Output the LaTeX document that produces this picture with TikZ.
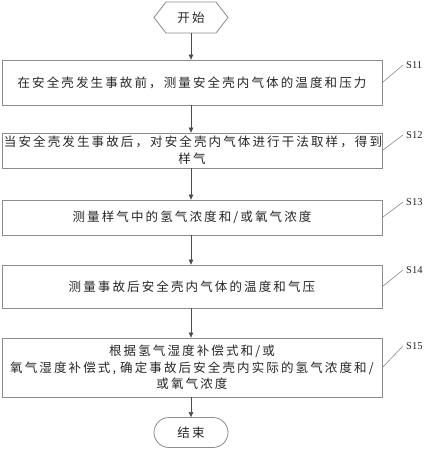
\documentclass[tikz,border=0pt]{standalone}
\usepackage{fontspec}
\setmainfont{Liberation Serif}
\newfontfamily\cjk[LetterSpace=17]{Noto Sans CJK SC}
\usetikzlibrary{arrows.meta,shapes.misc}
\tikzset{
  box/.style={draw=black!45, line width=0.8pt, minimum width=380pt, text width=376pt,
    align=center, inner sep=0pt, font=\cjk\fontsize{12.5}{17}\selectfont, text=black!85},
  term/.style={draw=black!45, line width=0.8pt, minimum width=74pt, minimum height=30pt,
    inner sep=0pt, font=\cjk\fontsize{12.5}{17}\selectfont, text=black!85},
  flow/.style={draw=black!70, line width=0.6pt, -{Triangle[length=5pt,width=4.5pt]}},
  lead/.style={draw=black!45, line width=0.6pt},
  steplabel/.style={font=\fontsize{10.5}{12}\selectfont, text=black!85, inner sep=0pt, anchor=west}
}
\begin{document}
\begin{tikzpicture}[x=1pt,y=-1pt]
\useasboundingbox (0,0) rectangle (426,450);
\fill[white] (0,0) rectangle (426,450);
% start hexagon
\node[term, draw=none] (start) at (191,17.5) {开始};
\draw[draw=black!45, line width=0.8pt] (154,17.5) -- (166,2) -- (216,2) -- (228,17.5) -- (216,33) -- (166,33) -- cycle;
\coordinate (startb) at (191,33);
\node[box, minimum height=45pt] (s11) at (192,82.5) {在安全壳发生事故前，测量安全壳内气体的温度和压力};
\node[box, minimum height=35pt] (s12) at (192,150.5) {当安全壳发生事故后，对安全壳内气体进行干法取样，得到\\样气};
\node[box, minimum height=35pt] (s13) at (192,217.5) {测量样气中的氢气浓度和/或氧气浓度};
\node[box, minimum height=43pt] (s14) at (192,286.5) {测量事故后安全壳内气体的温度和气压};
\node[box, minimum height=59pt, font=\cjk\fontsize{12.5}{16.5}\selectfont] (s15) at (192,367.5) {根据氢气湿度补偿式和/或\\氧气湿度补偿式, 确定事故后安全壳内实际的氢气浓度和/\\或氧气浓度};
\node[term, rounded rectangle] (end) at (191,432.5) {结束};
% flow arrows
\draw[flow] (startb) -- (startb |- s11.north);
\draw[flow] (s11.south -| startb) -- (s12.north -| startb);
\draw[flow] (s12.south -| startb) -- (s13.north -| startb);
\draw[flow] (s13.south -| startb) -- (s14.north -| startb);
\draw[flow] (s14.south -| startb) -- (s15.north -| startb);
\draw[flow] (s15.south -| startb) -- (end.north);
% step labels
\node[steplabel] (l11) at (406,65) {S11};
\node[steplabel] (l12) at (406,135) {S12};
\node[steplabel] (l13) at (406,202) {S13};
\node[steplabel] (l14) at (406,270) {S14};
\node[steplabel] (l15) at (406,346) {S15};
\draw[lead] (s11.east) -- ([xshift=-3pt]l11.west);
\draw[lead] (s12.east) -- ([xshift=-3pt]l12.west);
\draw[lead] (s13.east) -- ([xshift=-3pt]l13.west);
\draw[lead] (s14.east) -- ([xshift=-3pt]l14.west);
\draw[lead] (s15.east) -- ([xshift=-3pt]l15.west);
\end{tikzpicture}
\end{document}
